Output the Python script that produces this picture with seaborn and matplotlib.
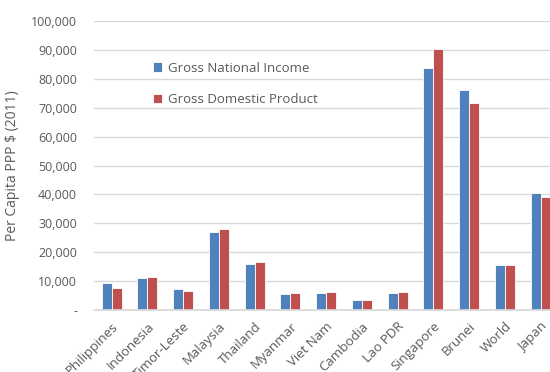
import matplotlib
matplotlib.use("Agg")
import matplotlib.pyplot as plt
import seaborn as sns
import pandas as pd
from matplotlib.ticker import FuncFormatter

countries = ["Philippines", "Indonesia", "Timor-Leste", "Malaysia", "Thailand",
             "Myanmar", "Viet Nam", "Cambodia", "Lao PDR", "Singapore",
             "Brunei", "World", "Japan"]
gni = [9400, 11100, 7300, 27100, 15900, 5650, 6100, 3450, 6100, 83600, 76100, 15600, 40600]
gdp = [7700, 11400, 6600, 28000, 16700, 5900, 6450, 3700, 6450, 90100, 71500, 15800, 39100]
series_names = ["Gross National Income", "Gross Domestic Product"]
colors = ["#4F81BD", "#C0504D"]

df = pd.DataFrame({
    "country": countries * 2,
    "value": gni + gdp,
    "series": [series_names[0]] * len(countries) + [series_names[1]] * len(countries),
})

sns.set_theme(style="white")
plt.rcParams["font.family"] = ["Open Sans", "DejaVu Sans"]

fig = plt.figure(figsize=(5.5, 3.72), dpi=100)
ax = fig.add_axes([0.1705, 0.166, 0.845, 0.778])

sns.barplot(data=df, x="country", y="value", hue="series", palette=colors,
            saturation=1, width=0.56, edgecolor="white", linewidth=0.6,
            ax=ax, legend=True)

ax.set_ylim(0, 100000)
ax.set_yticks(range(0, 100001, 10000))
ax.yaxis.set_major_formatter(FuncFormatter(lambda v, p: "-" if v == 0 else f"{int(v):,}"))
ax.grid(axis="y", color="#d9d9d9", linewidth=1)
ax.set_axisbelow(True)
for s in ["top", "right", "left"]:
    ax.spines[s].set_visible(False)
ax.spines["bottom"].set_color("#d9d9d9")
ax.tick_params(axis="both", length=0, colors="#595959", labelsize=9)
ax.tick_params(axis="y", pad=12)
ax.tick_params(axis="x", pad=7, labelsize=9.5)
for lab in ax.get_xticklabels():
    lab.set_rotation(45)
    lab.set_ha("right")
    lab.set_rotation_mode("anchor")
ax.set_xlabel("")
ax.set_ylabel("Per Capita PPP $ (2011)", color="#595959", fontsize=10, labelpad=8)

leg = ax.legend(loc="upper left", bbox_to_anchor=(0.102, 0.9), frameon=False,
                fontsize=9.5, labelspacing=1.4, handlelength=0.7, handleheight=0.7,
                handletextpad=0.4)
for t in leg.get_texts():
    t.set_color("#595959")

fig.savefig("out.png", dpi=100)
